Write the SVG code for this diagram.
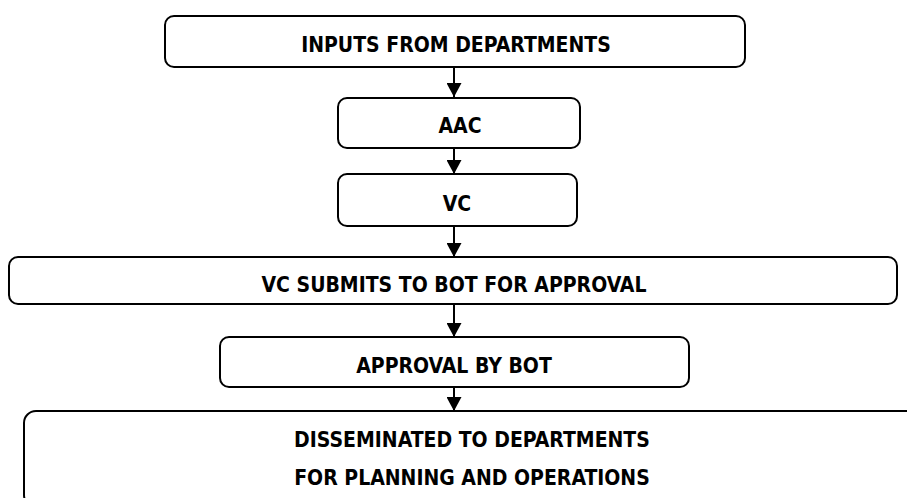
<svg xmlns="http://www.w3.org/2000/svg" width="907" height="498" viewBox="0 0 907 498">
  <style>
    .box { fill: #ffffff; stroke: #000000; stroke-width: 2; }
    .lbl { font-family: "DejaVu Sans Condensed", "DejaVu Sans", sans-serif; font-stretch: condensed; font-weight: bold; font-size: 21px; fill: #000000; text-anchor: middle; }
    .conn { stroke: #000000; stroke-width: 2; fill: none; }
  </style>
  <defs>
    <marker id="arrow" viewBox="0 0 14 15" refX="14" refY="7.5" markerWidth="14" markerHeight="15" markerUnits="userSpaceOnUse" orient="auto">
      <path d="M0,0 L14,7.5 L0,15 Z" fill="#000000"/>
    </marker>
  </defs>
  <rect width="907" height="498" fill="#ffffff"/>

  <g id="connectors">
    <line class="conn" x1="454" y1="67" x2="454" y2="97" marker-end="url(#arrow)"/>
    <line class="conn" x1="454" y1="148" x2="454" y2="174" marker-end="url(#arrow)"/>
    <line class="conn" x1="454" y1="226" x2="454" y2="257" marker-end="url(#arrow)"/>
    <line class="conn" x1="454" y1="304" x2="454" y2="337" marker-end="url(#arrow)"/>
    <line class="conn" x1="454" y1="387" x2="454" y2="411" marker-end="url(#arrow)"/>
  </g>

  <g id="inputs">
    <rect class="box" x="165" y="16" width="580" height="51" rx="9"/>
    <text class="lbl" x="456" y="52">INPUTS FROM DEPARTMENTS</text>
  </g>
  <g id="aac">
    <rect class="box" x="338" y="98" width="242" height="50" rx="9"/>
    <text class="lbl" x="460" y="133">AAC</text>
  </g>
  <g id="vc">
    <rect class="box" x="338" y="174" width="239" height="52" rx="9"/>
    <text class="lbl" x="457" y="211">VC</text>
  </g>
  <g id="vc-submits">
    <rect class="box" x="9" y="257" width="888" height="47" rx="9"/>
    <text class="lbl" x="454" y="292">VC SUBMITS TO BOT FOR APPROVAL</text>
  </g>
  <g id="approval">
    <rect class="box" x="220" y="337" width="469" height="50" rx="9"/>
    <text class="lbl" x="454" y="373">APPROVAL BY BOT</text>
  </g>
  <g id="disseminated">
    <rect class="box" x="24" y="411" width="896" height="96" rx="12"/>
    <text class="lbl" x="472" y="447">DISSEMINATED TO DEPARTMENTS</text>
    <text class="lbl" x="472" y="485">FOR PLANNING AND OPERATIONS</text>
  </g>
</svg>
